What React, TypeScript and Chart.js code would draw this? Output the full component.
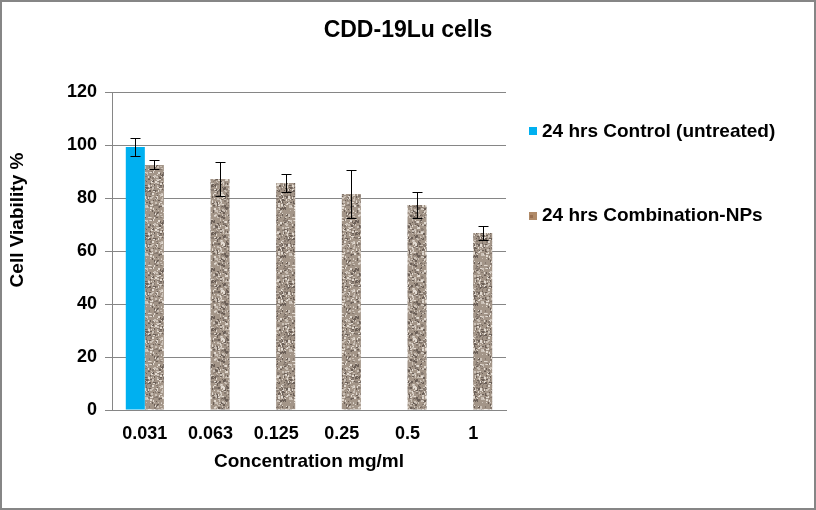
import React, { useEffect, useRef } from 'react';
import { Chart, registerables } from 'chart.js';

Chart.register(...registerables);

const FONT = '"Liberation Sans", Arial, sans-serif';

const chartTitle = 'CDD-19Lu cells';
const xAxisTitle = 'Concentration mg/ml';
const yAxisTitle = 'Cell Viability %';
const categories = ['0.031', '0.063', '0.125', '0.25', '0.5', '1'];
const controlLabel = '24 hrs Control (untreated)';
const npLabel = '24 hrs Combination-NPs';
const controlValues: (number | null)[] = [99.2, null, null, null, null, null];
const controlErrors: (number | null)[] = [3.5, null, null, null, null, null];
const npValues: number[] = [92.5, 87.2, 85.7, 81.5, 77.4, 66.8];
const npErrors: number[] = [1.7, 6.5, 3.4, 9.2, 4.9, 2.5];
const yMin = 0;
const yMax = 120;
const yStep = 20;

function makePattern(ctx: CanvasRenderingContext2D): CanvasPattern | string {
  const c = document.createElement('canvas');
  c.width = 48;
  c.height = 48;
  const g = c.getContext('2d');
  if (!g) return '#a0948a';
  g.fillStyle = '#a39588';
  g.fillRect(0, 0, 48, 48);
  let s = 12345;
  const rnd = () => {
    s = (s * 1103515245 + 12345) & 0x7fffffff;
    return s / 0x7fffffff;
  };
  for (let i = 0; i < 600; i++) {
    const x = Math.floor(rnd() * 48);
    const y = Math.floor(rnd() * 48);
    const r = rnd();
    g.fillStyle = r < 0.28 ? '#6b5f57' : r < 0.56 ? '#cbc1b7' : r < 0.8 ? '#877a70' : '#e2dad1';
    g.fillRect(x, y, 1 + Math.floor(rnd() * 2), 1 + Math.floor(rnd() * 2));
  }
  return ctx.createPattern(c, 'repeat') || '#a0948a';
}

const errorBarPlugin = {
  id: 'errorBars',
  afterDatasetsDraw(chart: any) {
    const ctx = chart.ctx;
    const yScale = chart.scales.y;
    const errs = [controlErrors, npErrors];
    const vals = [controlValues, npValues];
    ctx.save();
    ctx.strokeStyle = '#000';
    ctx.lineWidth = 1;
    chart.data.datasets.forEach((_: any, di: number) => {
      const meta = chart.getDatasetMeta(di);
      meta.data.forEach((bar: any, i: number) => {
        const v = vals[di][i];
        const e = errs[di][i];
        if (v == null || e == null) return;
        const x = Math.round(bar.x) + 0.5;
        const yt = Math.round(yScale.getPixelForValue(v + e)) + 0.5;
        const yb = Math.round(yScale.getPixelForValue(v - e)) + 0.5;
        ctx.beginPath();
        ctx.moveTo(x, yt);
        ctx.lineTo(x, yb);
        ctx.moveTo(x - 5, yt);
        ctx.lineTo(x + 5, yt);
        ctx.moveTo(x - 5, yb);
        ctx.lineTo(x + 5, yb);
        ctx.stroke();
      });
    });
    ctx.restore();
  },
};

const decorPlugin = {
  id: 'decor',
  beforeDraw(chart: any) {
    const ctx = chart.ctx;
    ctx.save();
    ctx.fillStyle = '#ffffff';
    ctx.fillRect(0, 0, chart.width, chart.height);
    ctx.restore();
  },
  afterDraw(chart: any) {
    const ctx = chart.ctx;
    const area = chart.chartArea;
    ctx.save();
    // outer border
    ctx.strokeStyle = '#868686';
    ctx.lineWidth = 2;
    ctx.strokeRect(1, 1, chart.width - 2, chart.height - 2);

    ctx.fillStyle = '#000';
    ctx.textAlign = 'center';
    ctx.textBaseline = 'middle';
    ctx.font = `bold 23px ${FONT}`;
    ctx.fillText(chartTitle, chart.width / 2, 31);

    ctx.font = `bold 19px ${FONT}`;
    ctx.fillText(xAxisTitle, (area.left + area.right) / 2, 462);

    ctx.save();
    ctx.translate(18, 220);
    ctx.rotate(-Math.PI / 2);
    ctx.fillText(yAxisTitle, 0, 0);
    ctx.restore();

    // legend
    const lx = area.right + 23;
    ctx.textAlign = 'left';
    ctx.fillStyle = '#00b0f0';
    ctx.fillRect(lx, 127, 8, 8);
    ctx.fillStyle = '#b08a68';
    ctx.fillRect(lx, 212, 8, 8);
    ctx.fillStyle = '#9a6f4f';
    ctx.fillRect(lx + 1, 215, 3, 3);
    ctx.fillStyle = '#000';
    ctx.fillText(controlLabel, lx + 13, 132);
    ctx.fillText(npLabel, lx + 13, 216);
    ctx.restore();
  },
};

export default function App() {
  const ref = useRef<HTMLCanvasElement | null>(null);

  useEffect(() => {
    const canvas = ref.current;
    if (!canvas) return;
    const ctx = canvas.getContext('2d');
    if (!ctx) return;
    const pattern = makePattern(ctx);
    const chart = new Chart(canvas, {
      type: 'bar',
      data: {
        labels: categories,
        datasets: [
          {
            label: controlLabel,
            data: controlValues,
            backgroundColor: '#00b0f0',
            borderWidth: 0,
          },
          {
            label: npLabel,
            data: npValues,
            backgroundColor: pattern as any,
            borderWidth: 0,
          },
        ],
      },
      options: {
        animation: false,
        responsive: false,
        maintainAspectRatio: false,
        devicePixelRatio: 1,
        layout: { padding: { left: 0, top: 92, right: 310, bottom: 0 } },
        datasets: {
          bar: { categoryPercentage: 0.58, barPercentage: 1 },
        },
        plugins: {
          legend: { display: false },
          title: { display: false },
          tooltip: { enabled: false },
        },
        scales: {
          x: {
            type: 'category',
            offset: true,
            grid: { display: false, drawTicks: false },
            border: { display: true, color: '#868686', width: 1 },
            ticks: {
              color: '#000',
              font: { family: FONT, size: 18, weight: 'bold' },
              padding: 13,
              maxRotation: 0,
              autoSkip: false,
            },
            afterFit: (scale: any) => {
              scale.height = 100;
            },
          },
          y: {
            min: yMin,
            max: yMax,
            grid: { color: '#868686', lineWidth: 1, drawTicks: true, tickLength: 7, tickColor: '#868686' },
            border: { display: true, color: '#868686', width: 1 },
            ticks: {
              stepSize: yStep,
              color: '#000',
              font: { family: FONT, size: 18, weight: 'bold' },
              padding: 8,
            },
            afterFit: (scale: any) => {
              scale.width = 112;
            },
          },
        },
      },
      plugins: [decorPlugin, errorBarPlugin],
    });
    return () => chart.destroy();
  }, []);

  return (
    <div style={{ position: 'fixed', left: 0, top: 0, width: 816, height: 510 }}>
      <canvas ref={ref} width={816} height={510} style={{ width: 816, height: 510, display: 'block' }} />
    </div>
  );
}
